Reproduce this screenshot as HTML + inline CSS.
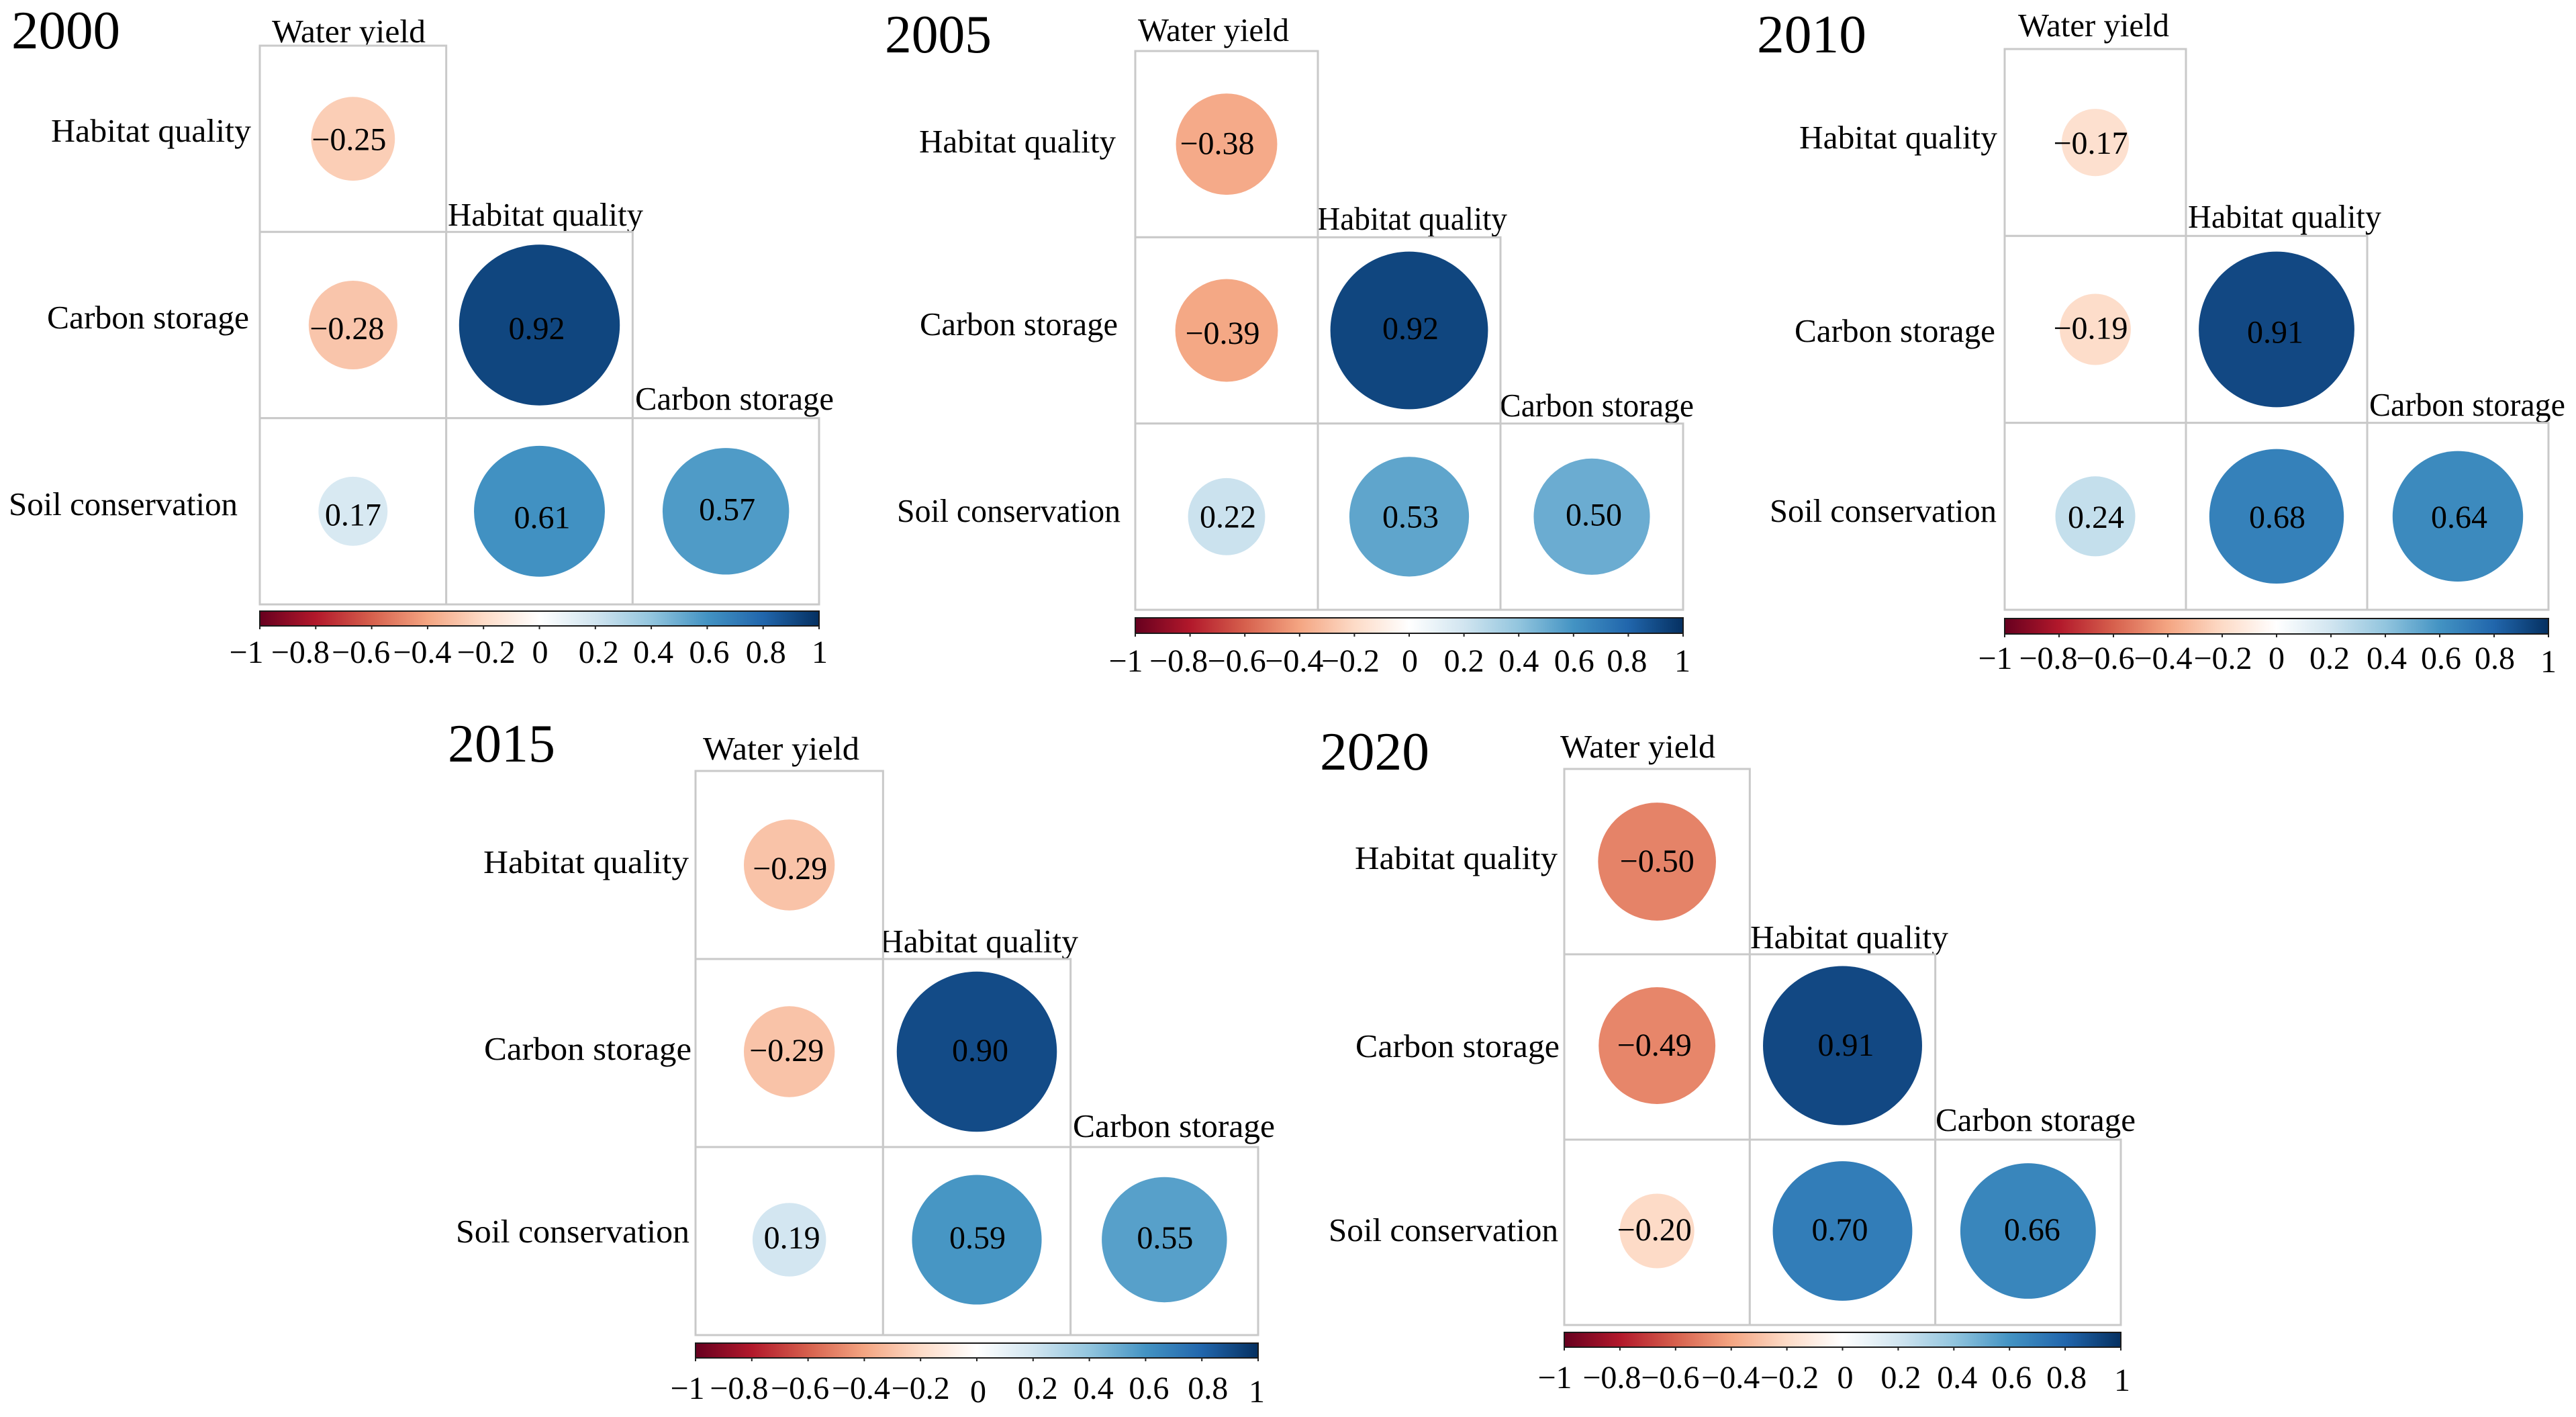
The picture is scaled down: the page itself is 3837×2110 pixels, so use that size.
<!DOCTYPE html>
<html lang="en">
<head>
<meta charset="utf-8">
<title>Correlation matrices of ecosystem services, 2000–2020</title>
<style>
html,body{margin:0;padding:0;background:#fff;width:3837px;height:2110px;overflow:hidden}
svg{display:block}
text{font-family:"Liberation Serif","Times New Roman",serif;fill:#000}
</style>
</head>
<body>
<svg id="chart" xmlns="http://www.w3.org/2000/svg" width="3837" height="2110" viewBox="0 0 3837 2110">
<defs>
<linearGradient id="rdbu" x1="0" y1="0" x2="1" y2="0"></linearGradient>
</defs>
<rect x="0" y="0" width="3837" height="2110" fill="#ffffff"></rect>
</svg>
<script>
// ---------- data ----------
const years = ["2000", "2005", "2010", "2015", "2020"];
const colLabels = ["Water yield", "Habitat quality", "Carbon storage"];
const rowLabels = ["Habitat quality", "Carbon storage", "Soil conservation"];
const values2000 = [[-0.25], [-0.28, 0.92], [0.17, 0.61, 0.57]];
const values2005 = [[-0.38], [-0.39, 0.92], [0.22, 0.53, 0.50]];
const values2010 = [[-0.17], [-0.19, 0.91], [0.24, 0.68, 0.64]];
const values2015 = [[-0.29], [-0.29, 0.90], [0.19, 0.59, 0.55]];
const values2020 = [[-0.50], [-0.49, 0.91], [-0.20, 0.70, 0.66]];
const yearValues = [values2000, values2005, values2010, values2015, values2020];
const tickValues = [-1, -0.8, -0.6, -0.4, -0.2, 0, 0.2, 0.4, 0.6, 0.8, 1];
const tickLabels = ["\u22121", "\u22120.8", "\u22120.6", "\u22120.4", "\u22120.2", "0", "0.2", "0.4", "0.6", "0.8", "1"];
const colormapDomain = [-1, -0.8, -0.6, -0.4, -0.2, 0, 0.2, 0.4, 0.6, 0.8, 1];
const colormapColors = ["#67001F", "#B2182B", "#D6604D", "#F4A582", "#FDDBC7", "#FFFFFF", "#D1E5F0", "#92C5DE", "#4393C3", "#2166AC", "#053061"];

// ---------- layout (per-panel frame and text placement, no data) ----------
const panelLayouts = [
  { frame: [387, 1220, 68, 900], bar: [910, 932], tickBase: 987,
    year: [17, 179, 72], circleDy: [0, 0, 0],
    cols: [[405, 634, 63], [667, 958, 336], [946, 1242, 610]],
    rows: [[76, 374, 211], [70, 371, 489], [13, 354, 767]],
    nudges: [[[-6, 17]], [[-9, 21], [-4, 21]], [[0, 21], [4, 25], [2, 13]]],
    tickDx: [-20, -23, -16, -8, 4, 1, 5, 3, 3, 4, 1],
    tickDy: [0, 0, 0, 0, 0, 0, 0, 0, 0, 0, 0] },
  { frame: [1691, 2507, 76, 908], bar: [920, 943], tickBase: 1000,
    year: [1318, 1477, 78], circleDy: [0, 0, 0],
    cols: [[1695, 1920, 61], [1962, 2245, 342], [2234, 2523, 620]],
    rows: [[1369, 1662, 227], [1370, 1665, 499], [1336, 1669, 777]],
    nudges: [[[-14, 15]], [[-6, 20], [2, 13]], [[2, 16], [2, 16], [3, 13]]],
    tickDx: [-14, -17, -12, -8, -6, 1, 0, 0, 1, -2, -1],
    tickDy: [0, 0, 0, 0, 0, 0, 0, 0, 0, 0, 0] },
  { frame: [2986, 3796, 73, 908], bar: [921, 944], tickBase: 996,
    year: [2617, 2780, 78], circleDy: [0, 0, 0],
    cols: [[3006, 3231, 54], [3259, 3547, 339], [3529, 3821, 619]],
    rows: [[2680, 2975, 221], [2673, 2972, 509], [2636, 2974, 777]],
    nudges: [[[-7, 17]], [[-7, 14], [-2, 20]], [[1, 17], [1, 17], [2, 17]]],
    tickDx: [-14, -16, -12, -7, 1, 0, -2, 2, 2, 1, 0],
    tickDy: [0, 0, 0, 0, 0, 0, 0, 0, 0, 0, 5] },
  { frame: [1036, 1874, 1148, 1988], bar: [2000, 2022], tickBase: 2083,
    year: [667, 827, 1134], circleDy: [0, -2, -2],
    cols: [[1047, 1280, 1131], [1310, 1606, 1418], [1598, 1899, 1693]],
    rows: [[720, 1026, 1300], [721, 1030, 1578], [679, 1027, 1850]],
    nudges: [[[1, 21]], [[-4, 12], [5, 12]], [[4, 11], [1, 11], [1, 11]]],
    tickDx: [-12, -19, -12, -5, 0, 2, 7, 6, 5, 9, -2],
    tickDy: [0, 0, 0, 0, 0, 5, 0, 0, 0, 0, 5] },
  { frame: [2330, 3159, 1145, 1973], bar: [1984, 2006], tickBase: 2067,
    year: [1966, 2129, 1146], circleDy: [0, -2, -2],
    cols: [[2324, 2555, 1128], [2607, 2902, 1412], [2883, 3181, 1684]],
    rows: [[2018, 2320, 1294], [2019, 2323, 1574], [1979, 2321, 1848]],
    nudges: [[[0, 15]], [[-4, 13], [5, 13]], [[-4, 12], [-4, 12], [6, 12]]],
    tickDx: [-14, -12, -8, -1, 4, 4, 4, 5, 3, 2, 2],
    tickDy: [0, 0, 0, 0, 0, 0, 0, 0, 0, 0, 4] }
];

// ---------- helpers ----------
const SVG_NS = "http://www.w3.org/2000/svg";
const root = document.getElementById("chart");

function make(tag, parent, attrs) {
  const node = document.createElementNS(SVG_NS, tag);
  for (const key in attrs) node.setAttribute(key, attrs[key]);
  parent.appendChild(node);
  return node;
}

function fittedText(parent, box, size, content) {
  const t = make("text", parent, {
    x: box[0], y: box[2], "font-size": size,
    textLength: box[1] - box[0], lengthAdjust: "spacingAndGlyphs"
  });
  t.textContent = content;
  return t;
}

function hexToRgb(hex) {
  return [1, 3, 5].map(i => parseInt(hex.slice(i, i + 2), 16));
}

// colour axis: value -> RdBu colour
function colorScale(value) {
  const v = Math.max(-1, Math.min(1, value));
  let i = 0;
  while (i < colormapDomain.length - 2 && v > colormapDomain[i + 1]) i++;
  const f = (v - colormapDomain[i]) / (colormapDomain[i + 1] - colormapDomain[i]);
  const a = hexToRgb(colormapColors[i]);
  const b = hexToRgb(colormapColors[i + 1]);
  const c = a.map((ch, k) => Math.round(ch + (b[k] - ch) * f));
  return "rgb(" + c.join(",") + ")";
}

// size axis: circle area proportional to |value|, full cell would be r = 0.45 * cell
function radiusScale(value, cellSize) {
  return 0.45 * cellSize * Math.sqrt(Math.abs(value));
}

function formatValue(value) {
  const s = Math.abs(value).toFixed(2);
  return value < 0 ? "\u2212" + s : s;
}

// ---------- colour-bar gradient ----------
const gradient = document.getElementById("rdbu");
colormapColors.forEach((color, i) => {
  make("stop", gradient, {
    offset: ((colormapDomain[i] + 1) / 2 * 100) + "%",
    "stop-color": color
  });
});

// ---------- panels ----------
years.forEach((year, p) => {
  const layout = panelLayouts[p];
  const values = yearValues[p];
  const [x0, x1, y0, y1] = layout.frame;
  const cellW = (x1 - x0) / colLabels.length;
  const cellH = (y1 - y0) / rowLabels.length;
  const xBand = c => x0 + c * cellW;
  const yBand = r => y0 + r * cellH;

  const panel = make("g", root, {});
  
  

  const title = fittedText(panel, layout.year, 80, year);
  
  

  colLabels.forEach((label, c) => {
    const colText = fittedText(panel, layout.cols[c], 49, label);
    
    
  });

  rowLabels.forEach((label, r) => {
    const rowText = fittedText(panel, layout.rows[r], 49, label);
    
    
  });

  values.forEach((rowValues, r) => {
    rowValues.forEach((value, c) => {
      const cell = make("rect", panel, {
        x: xBand(c), y: yBand(r), width: cellW, height: cellH,
        fill: "#ffffff", stroke: "#c9c9c9", "stroke-width": 3
      });
      
      
    });
  });

  values.forEach((rowValues, r) => {
    rowValues.forEach((value, c) => {
      const cx = xBand(c) + cellW / 2;
      const cy = yBand(r) + cellH / 2;
      const circle = make("circle", panel, {
        cx: cx, cy: cy + layout.circleDy[r],
        r: radiusScale(value, Math.min(cellW, cellH)),
        fill: colorScale(value)
      });
      
      

      const nudge = layout.nudges[r][c];
      const valueText = make("text", panel, {
        x: cx + nudge[0], y: cy + nudge[1],
        "font-size": 48, "text-anchor": "middle"
      });
      valueText.textContent = formatValue(value);
      
      
    });
  });

  // colour bar
  const barX = v => x0 + (v + 1) / 2 * (x1 - x0);
  const [barTop, barBottom] = layout.bar;
  const bar = make("rect", panel, {
    x: x0, y: barTop, width: x1 - x0, height: barBottom - barTop,
    fill: "url(#rdbu)", stroke: "#1a1a1a", "stroke-width": 2
  });
  
  

  tickValues.forEach((tick, i) => {
    const line = make("line", panel, {
      x1: barX(tick), x2: barX(tick), y1: barBottom, y2: barBottom + 5,
      stroke: "#222222", "stroke-width": 2
    });
    
    

    const tickText = make("text", panel, {
      x: barX(tick) + layout.tickDx[i], y: layout.tickBase + layout.tickDy[i],
      "font-size": 48, "text-anchor": "middle"
    });
    tickText.textContent = tickLabels[i];
    
    
  });
});
</script>
</body>
</html>
